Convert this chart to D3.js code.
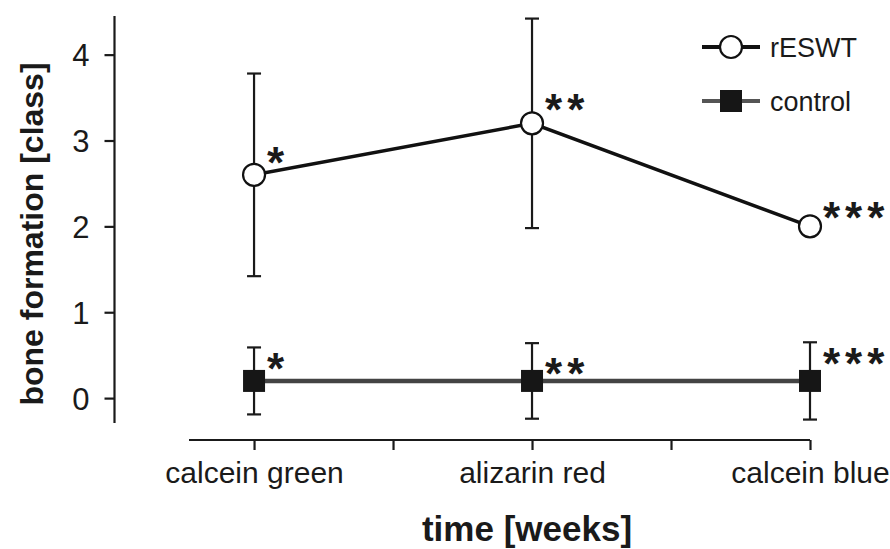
<!DOCTYPE html>
<html>
<head>
<meta charset="utf-8">
<script src="https://cdn.jsdelivr.net/npm/d3@7"></script>
<style>
  body { margin: 0; background: #fff; }
  text { font-family: "Liberation Sans", Arial, sans-serif; fill: #1a1a1a; }
</style>
</head>
<body>
<div id="chart"></div>
<script>
const width = 890, height = 549;

// data
const categories = ["calcein green", "alizarin red", "calcein blue"];
const reswt = [2.6, 3.2, 2.0];
const reswtErr = [1.18, 1.22, 0];
const control = [0.2, 0.2, 0.2];
const controlErr = [0.39, 0.44, 0.45];
const stars = ["*", "**", "***"];
const yTicks = [0, 1, 2, 3, 4];

const svg = d3.select("#chart")
    .append("svg")
    .attr("width", width)
    .attr("height", height);

const x = d3.scaleLinear()
    .domain([-0.234, 2])
    .range([189, 810]);

const y = d3.scaleLinear()
    .domain([-0.29, 4.45])
    .range([423, 16]);

// y axis
const yAxis = svg.append("g")
    .attr("transform", "translate(114.5,0)")
    .call(d3.axisLeft(y).tickValues(yTicks).tickSize(10).tickPadding(15).tickFormat(d3.format("d")));
yAxis.select(".domain").attr("d", `M0,${y.range()[0]}V${y.range()[1]}`).attr("stroke", "#1a1a1a").attr("stroke-width", 2.2);
yAxis.selectAll(".tick line").attr("stroke", "#1a1a1a").attr("stroke-width", 2.2);
yAxis.selectAll(".tick text").attr("font-size", 31).attr("fill", "#1a1a1a").attr("dy", "0.36em");

// x axis
const xAxis = svg.append("g")
    .attr("transform", "translate(0,440)")
    .call(d3.axisBottom(x).tickValues([0, 0.5, 1, 1.5, 2]).tickSize(10).tickPadding(12)
        .tickFormat(d => Number.isInteger(d) ? categories[d] : ""));
xAxis.select(".domain").attr("d", `M${x.range()[0]},0H${x.range()[1]}`).attr("stroke", "#1a1a1a").attr("stroke-width", 2.2);
xAxis.selectAll(".tick line").attr("stroke", "#1a1a1a").attr("stroke-width", 2.2);
xAxis.selectAll(".tick text").attr("font-size", 30).attr("fill", "#1a1a1a");

// axis titles
svg.append("text")
    .attr("transform", "translate(43,234) rotate(-90)")
    .attr("text-anchor", "middle")
    .attr("font-size", 32)
    .attr("font-weight", "bold")
    .text("bone formation [class]");

svg.append("text")
    .attr("x", 527)
    .attr("y", 541)
    .attr("text-anchor", "middle")
    .attr("font-size", 35)
    .attr("font-weight", "bold")
    .text("time [weeks]");

const idx = d3.range(categories.length);

// error bars
function errorBars(vals, errs, cls) {
    const g = svg.append("g").attr("class", cls)
        .attr("stroke", "#1a1a1a").attr("stroke-width", 2.2);
    const ids = idx.filter(i => errs[i] > 0);
    g.selectAll("line.v").data(ids).join("line")
        .attr("x1", i => x(i)).attr("x2", i => x(i))
        .attr("y1", i => y(vals[i] + errs[i])).attr("y2", i => y(vals[i] - errs[i]));
    g.selectAll("line.top").data(ids).join("line").attr("class", "top")
        .attr("x1", i => x(i) - 7).attr("x2", i => x(i) + 7)
        .attr("y1", i => y(vals[i] + errs[i])).attr("y2", i => y(vals[i] + errs[i]));
    g.selectAll("line.bot").data(ids).join("line").attr("class", "bot")
        .attr("x1", i => x(i) - 7).attr("x2", i => x(i) + 7)
        .attr("y1", i => y(vals[i] - errs[i])).attr("y2", i => y(vals[i] - errs[i]));
}
errorBars(reswt, reswtErr, "err-reswt");
errorBars(control, controlErr, "err-control");

// control line + squares
svg.append("path")
    .datum(idx)
    .attr("fill", "none")
    .attr("stroke", "#444")
    .attr("stroke-width", 4.5)
    .attr("d", d3.line().x(i => x(i)).y(i => y(control[i])));

svg.append("g")
    .selectAll("rect")
    .data(idx)
    .join("rect")
    .attr("x", i => x(i) - 11)
    .attr("y", i => y(control[i]) - 11)
    .attr("width", 22)
    .attr("height", 22)
    .attr("fill", "#161616");

// rESWT line + circles
svg.append("path")
    .datum(idx)
    .attr("fill", "none")
    .attr("stroke", "#111")
    .attr("stroke-width", 3.5)
    .attr("d", d3.line().x(i => x(i)).y(i => y(reswt[i])));

svg.append("g")
    .selectAll("circle")
    .data(idx)
    .join("circle")
    .attr("cx", i => x(i))
    .attr("cy", i => y(reswt[i]))
    .attr("r", 11)
    .attr("fill", "#fff")
    .attr("stroke", "#111")
    .attr("stroke-width", 2.2);

// significance stars (vertical nudge per point, as placed in the figure)
const starDyReswt = [3, 2, 7];
const starDyControl = [3, 8, -2];
svg.append("g")
    .selectAll("text")
    .data(idx)
    .join("text")
    .attr("x", i => x(i) + 13)
    .attr("y", i => y(reswt[i]) + starDyReswt[i])
    .attr("font-size", 44)
    .attr("font-weight", "bold")
    .attr("letter-spacing", 5)
    .text(i => stars[i]);

svg.append("g")
    .selectAll("text")
    .data(idx)
    .join("text")
    .attr("x", i => x(i) + 13)
    .attr("y", i => y(control[i]) + starDyControl[i])
    .attr("font-size", 44)
    .attr("font-weight", "bold")
    .attr("letter-spacing", 5)
    .text(i => stars[i]);

// legend
const legend = [
    {name: "rESWT", y: 47},
    {name: "control", y: 101}
];
const lg = svg.append("g");
lg.append("line").attr("x1", 702).attr("x2", 760).attr("y1", legend[0].y).attr("y2", legend[0].y)
    .attr("stroke", "#111").attr("stroke-width", 4);
lg.append("circle").attr("cx", 731).attr("cy", legend[0].y).attr("r", 11)
    .attr("fill", "#fff").attr("stroke", "#111").attr("stroke-width", 2.2);
lg.append("line").attr("x1", 702).attr("x2", 760).attr("y1", legend[1].y).attr("y2", legend[1].y)
    .attr("stroke", "#555").attr("stroke-width", 4);
lg.append("rect").attr("x", 720).attr("y", legend[1].y - 11).attr("width", 22).attr("height", 22)
    .attr("fill", "#161616");
lg.selectAll("text")
    .data(legend)
    .join("text")
    .attr("x", 770)
    .attr("y", d => d.y + 10)
    .attr("font-size", 27)
    .text(d => d.name);
</script>
</body>
</html>
